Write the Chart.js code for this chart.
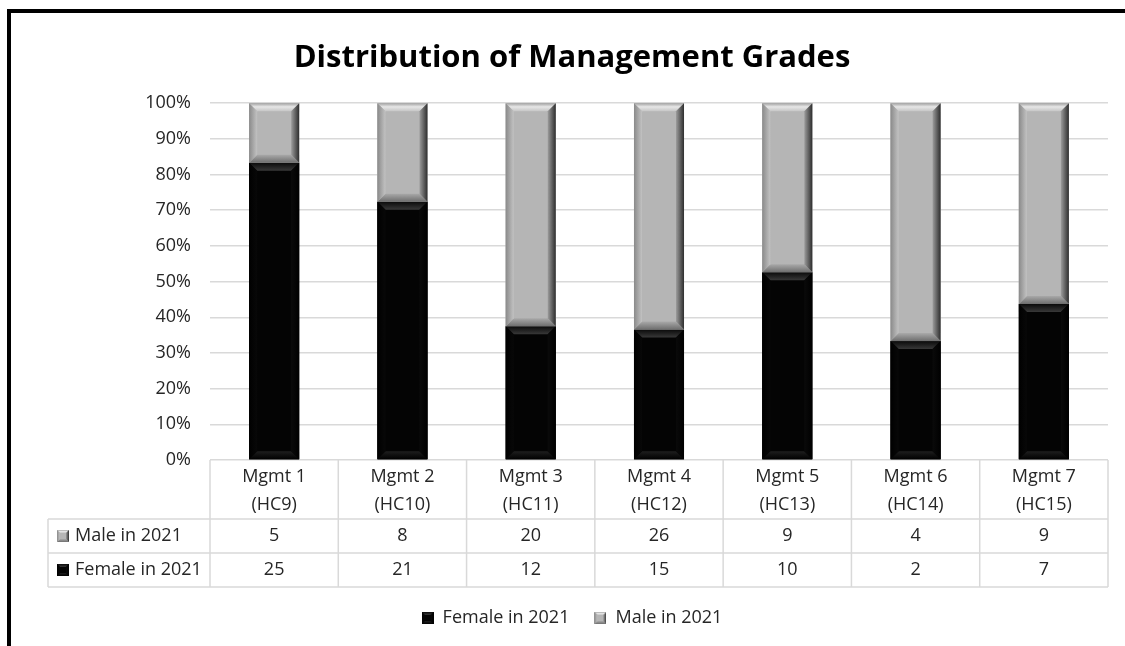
<!DOCTYPE html>
<html><head><meta charset="utf-8">
<script src="https://cdn.jsdelivr.net/npm/chart.js@4.4.0/dist/chart.umd.min.js"></script>
<style>
html,body{margin:0;padding:0;background:#fff;overflow:hidden;}
#wrap{position:relative;width:1125px;height:646px;overflow:hidden;}
#frame{position:absolute;left:7px;top:9px;width:1200px;height:700px;border-left:4px solid #000;border-top:4px solid #000;pointer-events:none;}
canvas{position:absolute;left:0;top:0;}
</style></head><body>
<div id="wrap"><canvas id="c" width="1125" height="646"></canvas><div id="frame"></div></div>
<script>
// ---- data ----
const categories = ['Mgmt 1','Mgmt 2','Mgmt 3','Mgmt 4','Mgmt 5','Mgmt 6','Mgmt 7'];
const gradeCodes = ['(HC9)','(HC10)','(HC11)','(HC12)','(HC13)','(HC14)','(HC15)'];
const femaleCounts = [25,21,12,15,10,2,7];
const maleCounts = [5,8,20,26,9,4,9];
const seriesNames = ['Female in 2021','Male in 2021'];
const yTickValues = [0,10,20,30,40,50,60,70,80,90,100];

const femalePct = femaleCounts.map((f,i)=> f/(f+maleCounts[i])*100);
const malePct = maleCounts.map((m,i)=> m/(femaleCounts[i]+m)*100);

const FONT = "'Open Sans', 'Noto Sans', sans-serif";
const TXT = '#262626';
const FS = 18;

const PAL = {
  male: {face:'#b5b5b5', top:[['#a2a2a2',0],['#e6e6e6',0.45],['#c6c6c6',1]], bottom:[['#6e6e6e',0],['#a9a9a9',1]],
         left:[['#8a8a8a',0],['#c2c2c2',1]], right:[['#2e2e2e',0],['#9c9c9c',1]]},
  female: {face:'#040404', top:[['#0a0a0a',0],['#383838',1]], bottom:[['#000000',0],['#1e1e1e',1]],
         left:[['#000000',0],['#080808',1]], right:[['#000000',0],['#0a0a0a',1]]}
};

function poly(ctx, pts, fill){
  ctx.beginPath(); ctx.moveTo(pts[0][0],pts[0][1]);
  for(let i=1;i<pts.length;i++) ctx.lineTo(pts[i][0],pts[i][1]);
  ctx.closePath(); ctx.fillStyle=fill; ctx.fill();
}
function grad(ctx,x0,y0,x1,y1,stops){
  const g=ctx.createLinearGradient(x0,y0,x1,y1);
  stops.forEach(s=>g.addColorStop(s[1],s[0])); return g;
}
function bevelBar(ctx,l,t,r,b,pal,bv){
  const w=r-l,h=b-t; if(w<=0||h<=0) return;
  const k=Math.min(bv,w/2,h/2);
  ctx.fillStyle=pal.face; ctx.fillRect(l,t,w,h);
  poly(ctx,[[l,t],[r,t],[r-k,t+k],[l+k,t+k]],grad(ctx,0,t,0,t+k,pal.top));
  poly(ctx,[[l,b],[r,b],[r-k,b-k],[l+k,b-k]],grad(ctx,0,b,0,b-k,pal.bottom));
  poly(ctx,[[l,t],[l+k,t+k],[l+k,b-k],[l,b]],grad(ctx,l,0,l+k,0,pal.left));
  poly(ctx,[[r,t],[r-k,t+k],[r-k,b-k],[r,b]],grad(ctx,r,0,r-k,0,pal.right));
}
function keyImage(pal){
  const c=document.createElement('canvas'); c.width=12; c.height=12;
  bevelBar(c.getContext('2d'),0,0,12,12,pal,3); return c;
}
const keyImgs = [keyImage(PAL.female), keyImage(PAL.male)];

const bevelPlugin = {
  id:'bevel',
  afterDatasetsDraw(chart){
    const ctx=chart.ctx; ctx.save();
    chart.data.datasets.forEach((ds,di)=>{
      const meta=chart.getDatasetMeta(di);
      const pal = di===0?PAL.female:PAL.male;
      meta.data.forEach(el=>{
        const p=el.getProps(['x','y','base','width'],true);
        const l=p.x-p.width/2, r=p.x+p.width/2;
        const t=Math.min(p.y,p.base), b=Math.max(p.y,p.base);
        bevelBar(ctx,l,t,r,b,pal,8);
      });
    });
    ctx.restore();
  }
};

const tablePlugin = {
  id:'dataTable',
  afterDraw(chart){
    const ctx=chart.ctx, xs=chart.scales.x, area=chart.chartArea;
    const top=area.bottom, headH=59, rowH=34, leftX=48;
    const r1=top+headH, r2=r1+rowH, r3=r2+rowH;
    const n=categories.length;
    ctx.save();
    ctx.strokeStyle='#d9d9d9'; ctx.lineWidth=1.5;
    ctx.beginPath();
    for(let i=0;i<=n;i++){
      const xb=xs.getPixelForValue(i-0.5);
      ctx.moveTo(xb,top); ctx.lineTo(xb,r3);
    }
    ctx.moveTo(leftX,r1); ctx.lineTo(area.right,r1);
    ctx.moveTo(leftX,r2); ctx.lineTo(area.right,r2);
    ctx.moveTo(leftX,r3); ctx.lineTo(area.right,r3);
    ctx.moveTo(leftX,r1); ctx.lineTo(leftX,r3);
    ctx.stroke();
    ctx.fillStyle=TXT; ctx.font=FS+"px "+FONT; ctx.textAlign='center'; ctx.textBaseline='middle';
    for(let i=0;i<n;i++){
      const cx=xs.getPixelForValue(i);
      ctx.fillText(categories[i],cx,top+17);
      ctx.fillText(gradeCodes[i],cx,top+45);
      ctx.fillText(String(maleCounts[i]),cx,r1+rowH/2);
      ctx.fillText(String(femaleCounts[i]),cx,r2+rowH/2);
    }
    ctx.textAlign='left';
    ctx.drawImage(keyImgs[1],57,r1+rowH/2-6);
    ctx.fillText(seriesNames[1],75,r1+rowH/2);
    ctx.drawImage(keyImgs[0],57,r2+rowH/2-6);
    ctx.fillText(seriesNames[0],75,r2+rowH/2);
    ctx.restore();
  }
};

new Chart(document.getElementById('c'),{
  type:'bar',
  data:{
    labels:categories,
    datasets:[
      {label:seriesNames[0],data:femalePct,backgroundColor:PAL.female.face,borderWidth:0,barPercentage:0.39,categoryPercentage:1,pointStyle:keyImgs[0]},
      {label:seriesNames[1],data:malePct,backgroundColor:PAL.male.face,borderWidth:0,barPercentage:0.39,categoryPercentage:1,pointStyle:keyImgs[1]}
    ]
  },
  options:{
    responsive:false, animation:false, devicePixelRatio:1,
    layout:{padding:{left:36,right:17,top:0,bottom:9}},
    plugins:{
      title:{display:true,text:'Distribution of Management Grades',color:'#000',
        font:{family:FONT,size:31,weight:'bold'},padding:{top:40,bottom:26}},
      legend:{position:'bottom',
        labels:{usePointStyle:true,boxWidth:12,boxHeight:12,padding:25,color:TXT,font:{family:FONT,size:FS}}},
      tooltip:{enabled:false}
    },
    scales:{
      x:{stacked:true,grid:{display:false},border:{display:false},ticks:{display:false},
        afterFit(s){s.height=124;}},
      y:{stacked:true,min:0,max:100,
        afterBuildTicks(s){s.ticks=yTickValues.map(v=>({value:v}));},
        grid:{color:'#d9d9d9',lineWidth:1.5,drawTicks:false},border:{display:false},
        ticks:{padding:19,color:TXT,font:{family:FONT,size:FS},callback:v=>v+'%'},
        afterFit(s){s.width=174;}}
    }
  },
  plugins:[bevelPlugin,tablePlugin]
});
</script>
</body></html>
